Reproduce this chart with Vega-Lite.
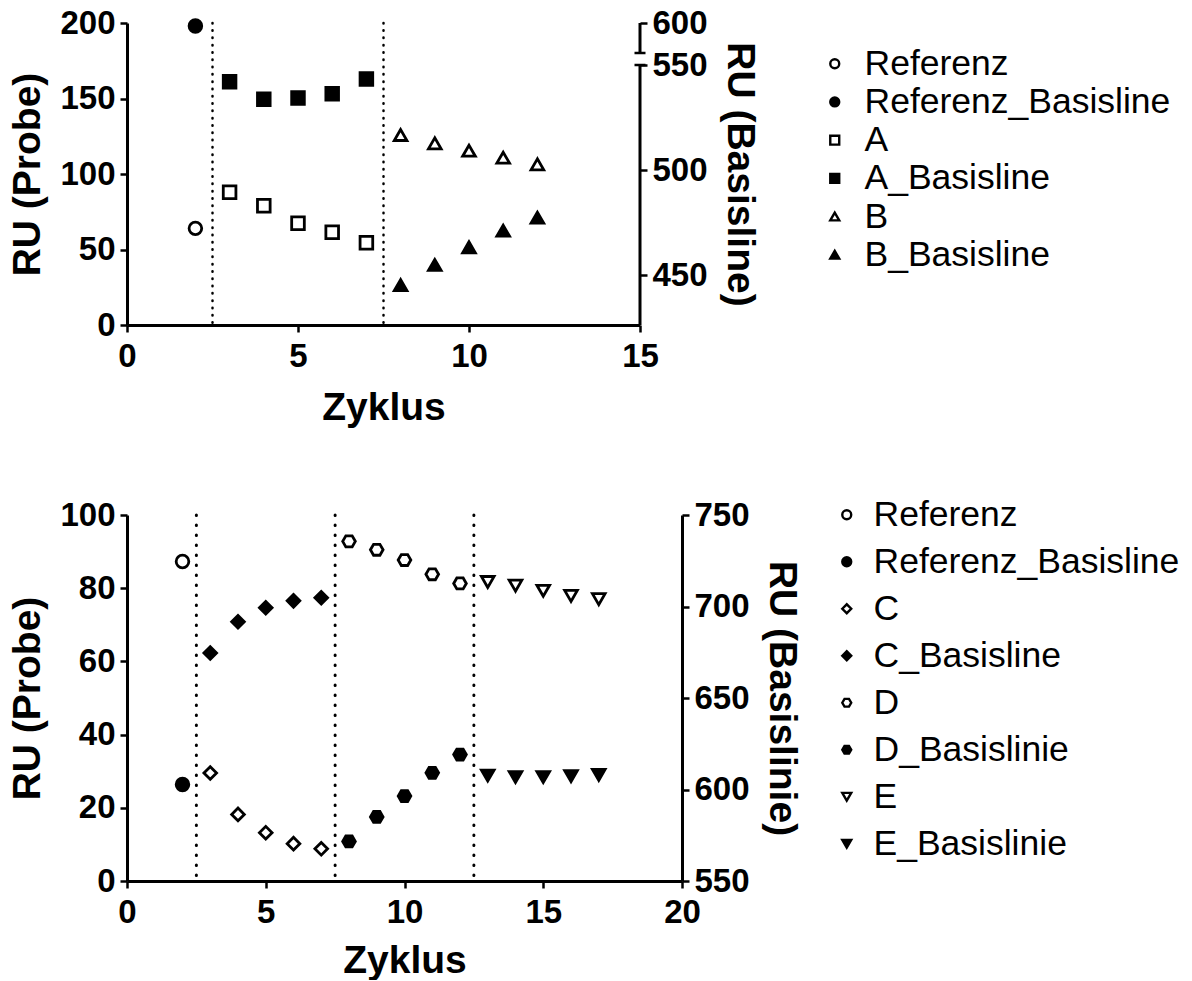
{
  "$schema": "https://vega.github.io/schema/vega-lite/v6.json",
  "background": "white",
  "padding": {"left": 8, "top": 7, "right": 0, "bottom": 0},
  "config": {
    "view": {"stroke": null},
    "font": "Liberation Sans",
    "axis": {
      "labelFont": "Liberation Sans", "labelFontWeight": "bold", "labelFontSize": 33, "labelColor": "black",
      "titleFont": "Liberation Sans", "titleFontWeight": "bold", "titleFontSize": 39, "titleColor": "black",
      "domainColor": "black", "domainWidth": 3, "tickColor": "black", "tickWidth": 2.5, "tickSize": 7,
      "grid": false, "labelPadding": 5, "titlePadding": 12, "labelFlush": false, "labelOverlap": false
    },
    "axisX": {"labelPadding": 8},
    "legend": {
      "orient": "none", "padding": 0, "labelFont": "Liberation Sans", "labelFontSize": 35.5, "labelColor": "black",
      "labelLimit": 500, "symbolSize": 80, "symbolStrokeWidth": 2.4
    }
  },
  "datasets": {
    "oben": [
      {"serie": "Referenz", "achse": "Probe", "zyklus": 2, "ru": 64.0},
      {"serie": "A", "achse": "Probe", "zyklus": 3, "ru": 87.9},
      {"serie": "A", "achse": "Probe", "zyklus": 4, "ru": 79.0},
      {"serie": "A", "achse": "Probe", "zyklus": 5, "ru": 67.4},
      {"serie": "A", "achse": "Probe", "zyklus": 6, "ru": 61.4},
      {"serie": "A", "achse": "Probe", "zyklus": 7, "ru": 54.5},
      {"serie": "B", "achse": "Probe", "zyklus": 8, "ru": 125.8},
      {"serie": "B", "achse": "Probe", "zyklus": 9, "ru": 120.3},
      {"serie": "B", "achse": "Probe", "zyklus": 10, "ru": 115.4},
      {"serie": "B", "achse": "Probe", "zyklus": 11, "ru": 110.8},
      {"serie": "B", "achse": "Probe", "zyklus": 12, "ru": 106.4},
      {"serie": "Referenz_Basisline", "achse": "Basis", "zyklus": 2, "ru": 598},
      {"serie": "A_Basisline", "achse": "Basis", "zyklus": 3, "ru": 542.0},
      {"serie": "A_Basisline", "achse": "Basis", "zyklus": 4, "ru": 533.7},
      {"serie": "A_Basisline", "achse": "Basis", "zyklus": 5, "ru": 534.3},
      {"serie": "A_Basisline", "achse": "Basis", "zyklus": 6, "ru": 536.3},
      {"serie": "A_Basisline", "achse": "Basis", "zyklus": 7, "ru": 543.3},
      {"serie": "B_Basisline", "achse": "Basis", "zyklus": 8, "ru": 445.2},
      {"serie": "B_Basisline", "achse": "Basis", "zyklus": 9, "ru": 454.8},
      {"serie": "B_Basisline", "achse": "Basis", "zyklus": 10, "ru": 463.2},
      {"serie": "B_Basisline", "achse": "Basis", "zyklus": 11, "ru": 471.1},
      {"serie": "B_Basisline", "achse": "Basis", "zyklus": 12, "ru": 477.3}
    ],
    "unten": [
      {"serie": "Referenz", "achse": "Probe", "zyklus": 2, "ru": 87.3},
      {"serie": "C", "achse": "Probe", "zyklus": 3, "ru": 29.5},
      {"serie": "C", "achse": "Probe", "zyklus": 4, "ru": 18.2},
      {"serie": "C", "achse": "Probe", "zyklus": 5, "ru": 13.2},
      {"serie": "C", "achse": "Probe", "zyklus": 6, "ru": 10.2},
      {"serie": "C", "achse": "Probe", "zyklus": 7, "ru": 8.8},
      {"serie": "D", "achse": "Probe", "zyklus": 8, "ru": 92.8},
      {"serie": "D", "achse": "Probe", "zyklus": 9, "ru": 90.5},
      {"serie": "D", "achse": "Probe", "zyklus": 10, "ru": 87.7},
      {"serie": "D", "achse": "Probe", "zyklus": 11, "ru": 83.8},
      {"serie": "D", "achse": "Probe", "zyklus": 12, "ru": 81.3},
      {"serie": "E", "achse": "Probe", "zyklus": 13, "ru": 81.7},
      {"serie": "E", "achse": "Probe", "zyklus": 14, "ru": 80.7},
      {"serie": "E", "achse": "Probe", "zyklus": 15, "ru": 79.3},
      {"serie": "E", "achse": "Probe", "zyklus": 16, "ru": 77.9},
      {"serie": "E", "achse": "Probe", "zyklus": 17, "ru": 77.0},
      {"serie": "Referenz_Basisline", "achse": "Basis", "zyklus": 2, "ru": 602.7},
      {"serie": "C_Basisline", "achse": "Basis", "zyklus": 3, "ru": 674.6},
      {"serie": "C_Basisline", "achse": "Basis", "zyklus": 4, "ru": 691.7},
      {"serie": "C_Basisline", "achse": "Basis", "zyklus": 5, "ru": 699.3},
      {"serie": "C_Basisline", "achse": "Basis", "zyklus": 6, "ru": 703.1},
      {"serie": "C_Basisline", "achse": "Basis", "zyklus": 7, "ru": 704.8},
      {"serie": "D_Basislinie", "achse": "Basis", "zyklus": 8, "ru": 571.6},
      {"serie": "D_Basislinie", "achse": "Basis", "zyklus": 9, "ru": 585.0},
      {"serie": "D_Basislinie", "achse": "Basis", "zyklus": 10, "ru": 596.4},
      {"serie": "D_Basislinie", "achse": "Basis", "zyklus": 11, "ru": 609.1},
      {"serie": "D_Basislinie", "achse": "Basis", "zyklus": 12, "ru": 619.1},
      {"serie": "E_Basislinie", "achse": "Basis", "zyklus": 13, "ru": 607.6},
      {"serie": "E_Basislinie", "achse": "Basis", "zyklus": 14, "ru": 606.8},
      {"serie": "E_Basislinie", "achse": "Basis", "zyklus": 15, "ru": 606.8},
      {"serie": "E_Basislinie", "achse": "Basis", "zyklus": 16, "ru": 607.3},
      {"serie": "E_Basislinie", "achse": "Basis", "zyklus": 17, "ru": 608.0}
    ]
  },
  "spacing": 70,
  "vconcat": [
    {
      "width": 513,
      "height": 302,
      "data": {"name": "oben"},
      "layer": [
        {
          "layer": [
            {
              "data": {"values": [{"grenze": 2.5}, {"grenze": 7.5}]},
              "mark": {"type": "rule", "color": "black", "strokeWidth": 2.5, "strokeDash": [0.5, 6.8], "strokeCap": "round"},
              "encoding": {
                "x": {"field": "grenze", "type": "quantitative", "scale": {"domain": [0, 15], "nice": false},
                      "axis": {"values": [0, 5, 10, 15], "title": "Zyklus", "titlePadding": 15}}
              }
            },
            {
              "transform": [{"filter": {"field": "achse", "equal": "Probe"}}],
              "mark": {"type": "point", "filled": true, "strokeWidth": 2.8, "size": 160, "opacity": 1},
              "encoding": {
                "x": {"field": "zyklus", "type": "quantitative", "scale": {"domain": [0, 15], "nice": false},
                      "axis": {"values": [0, 5, 10, 15], "title": "Zyklus", "titlePadding": 15}},
                "y": {"field": "ru", "type": "quantitative", "scale": {"domain": [0, 200], "nice": false},
                      "axis": {"orient": "left", "values": [0, 50, 100, 150, 200], "title": "RU (Probe)"}},
                "shape": {"field": "serie", "type": "nominal",
                  "scale": {"domain": ["Referenz", "Referenz_Basisline", "A", "A_Basisline", "B", "B_Basisline"],
                            "range": ["circle", "circle", "square", "square", "triangle-up", "triangle-up"]},
                  "legend": {"title": null, "legendX": 690, "legendY": 23, "labelOffset": 12, "rowPadding": 1.2}},
                "fill": {"field": "serie", "type": "nominal",
                  "scale": {"domain": ["Referenz", "Referenz_Basisline", "A", "A_Basisline", "B", "B_Basisline"],
                            "range": ["white", "black", "white", "black", "white", "black"]},
                  "legend": {"title": null, "legendX": 690, "legendY": 23, "labelOffset": 12, "rowPadding": 1.2}},
                "stroke": {"field": "serie", "type": "nominal",
                  "scale": {"domain": ["Referenz", "Referenz_Basisline", "A", "A_Basisline", "B", "B_Basisline"],
                            "range": ["black", "black", "black", "black", "black", "black"]},
                  "legend": {"title": null, "legendX": 690, "legendY": 23, "labelOffset": 12, "rowPadding": 1.2}}
              }
            }
          ]
        },
        {
          "layer": [
            {
              "transform": [{"filter": {"field": "achse", "equal": "Basis"}}],
              "mark": {"type": "point", "filled": true, "strokeWidth": 2.8, "size": 160, "opacity": 1},
              "encoding": {
                "x": {"field": "zyklus", "type": "quantitative", "scale": {"domain": [0, 15], "nice": false},
                      "axis": {"values": [0, 5, 10, 15], "title": "Zyklus", "titlePadding": 15}},
                "y": {"field": "ru", "type": "quantitative",
                      "scale": {"domain": [426.2, 550, 580, 600], "range": [302, 42, 30, 0], "nice": false, "zero": false},
                      "axis": {"orient": "right", "values": [450, 500, 550, 600], "title": "RU (Basisline)", "domain": false}},
                "shape": {"field": "serie", "type": "nominal",
                  "scale": {"domain": ["Referenz", "Referenz_Basisline", "A", "A_Basisline", "B", "B_Basisline"],
                            "range": ["circle", "circle", "square", "square", "triangle-up", "triangle-up"]},
                  "legend": {"title": null, "legendX": 690, "legendY": 23, "labelOffset": 12, "rowPadding": 1.2}},
                "fill": {"field": "serie", "type": "nominal",
                  "scale": {"domain": ["Referenz", "Referenz_Basisline", "A", "A_Basisline", "B", "B_Basisline"],
                            "range": ["white", "black", "white", "black", "white", "black"]},
                  "legend": {"title": null, "legendX": 690, "legendY": 23, "labelOffset": 12, "rowPadding": 1.2}},
                "stroke": {"field": "serie", "type": "nominal",
                  "scale": {"domain": ["Referenz", "Referenz_Basisline", "A", "A_Basisline", "B", "B_Basisline"],
                            "range": ["black", "black", "black", "black", "black", "black"]},
                  "legend": {"title": null, "legendX": 690, "legendY": 23, "labelOffset": 12, "rowPadding": 1.2}}
              }
            },
            {
              "data": {"values": [{"von": 426.2, "bis": 550}, {"von": 580, "bis": 600}]},
              "mark": {"type": "rule", "color": "black", "strokeWidth": 3},
              "encoding": {
                "x": {"datum": 15, "type": "quantitative", "scale": {"domain": [0, 15], "nice": false},
                      "axis": {"values": [0, 5, 10, 15], "title": "Zyklus", "titlePadding": 15}},
                "y": {"field": "von", "type": "quantitative",
                      "scale": {"domain": [426.2, 550, 580, 600], "range": [302, 42, 30, 0], "nice": false, "zero": false},
                      "axis": {"orient": "right", "values": [450, 500, 550, 600], "title": "RU (Basisline)", "domain": false}},
                "y2": {"field": "bis"}
              }
            },
            {
              "data": {"values": [{"bruch": 550}, {"bruch": 580}]},
              "mark": {"type": "point", "shape": "stroke", "size": 121, "stroke": "black", "strokeWidth": 2.5, "opacity": 1},
              "encoding": {
                "x": {"datum": 15, "type": "quantitative", "scale": {"domain": [0, 15], "nice": false},
                      "axis": {"values": [0, 5, 10, 15], "title": "Zyklus", "titlePadding": 15}},
                "y": {"field": "bruch", "type": "quantitative",
                      "scale": {"domain": [426.2, 550, 580, 600], "range": [302, 42, 30, 0], "nice": false, "zero": false},
                      "axis": {"orient": "right", "values": [450, 500, 550, 600], "title": "RU (Basisline)", "domain": false}}
              }
            }
          ]
        }
      ],
      "resolve": {"scale": {"y": "independent"}}
    },
    {
      "width": 555,
      "height": 366,
      "data": {"name": "unten"},
      "layer": [
        {
          "layer": [
            {
              "data": {"values": [{"grenze": 2.5}, {"grenze": 7.5}, {"grenze": 12.5}]},
              "mark": {"type": "rule", "color": "black", "strokeWidth": 3, "strokeDash": [0.5, 9.5], "strokeCap": "round"},
              "encoding": {
                "x": {"field": "grenze", "type": "quantitative", "scale": {"domain": [0, 20], "nice": false},
                      "axis": {"values": [0, 5, 10, 15, 20], "title": "Zyklus", "titlePadding": 12}}
              }
            },
            {
              "transform": [{"filter": {"field": "achse", "equal": "Probe"}}],
              "mark": {"type": "point", "filled": true, "strokeWidth": 2.8, "size": 160, "opacity": 1},
              "encoding": {
                "x": {"field": "zyklus", "type": "quantitative", "scale": {"domain": [0, 20], "nice": false},
                      "axis": {"values": [0, 5, 10, 15, 20], "title": "Zyklus", "titlePadding": 12}},
                "y": {"field": "ru", "type": "quantitative", "scale": {"domain": [0, 100], "nice": false},
                      "axis": {"orient": "left", "values": [0, 20, 40, 60, 80, 100], "title": "RU (Probe)"}},
                "shape": {"field": "serie", "type": "nominal",
                  "scale": {"domain": ["Referenz", "Referenz_Basisline", "C", "C_Basisline", "D", "D_Basislinie", "E", "E_Basislinie"],
                            "range": ["circle", "circle", "diamond", "diamond", "M-1,0L-0.5,-0.866L0.5,-0.866L1,0L0.5,0.866L-0.5,0.866Z", "M-1,0L-0.5,-0.866L0.5,-0.866L1,0L0.5,0.866L-0.5,0.866Z", "triangle-down", "triangle-down"]},
                  "legend": {"title": null, "legendX": 702, "legendY": -18, "labelOffset": 9, "rowPadding": 10}},
                "fill": {"field": "serie", "type": "nominal",
                  "scale": {"domain": ["Referenz", "Referenz_Basisline", "C", "C_Basisline", "D", "D_Basislinie", "E", "E_Basislinie"],
                            "range": ["white", "black", "white", "black", "white", "black", "white", "black"]},
                  "legend": {"title": null, "legendX": 702, "legendY": -18, "labelOffset": 9, "rowPadding": 10}},
                "stroke": {"field": "serie", "type": "nominal",
                  "scale": {"domain": ["Referenz", "Referenz_Basisline", "C", "C_Basisline", "D", "D_Basislinie", "E", "E_Basislinie"],
                            "range": ["black", "black", "black", "black", "black", "black", "black", "black"]},
                  "legend": {"title": null, "legendX": 702, "legendY": -18, "labelOffset": 9, "rowPadding": 10}}
              }
            }
          ]
        },
        {
          "transform": [{"filter": {"field": "achse", "equal": "Basis"}}],
          "mark": {"type": "point", "filled": true, "strokeWidth": 2.8, "size": 160, "opacity": 1},
          "encoding": {
            "x": {"field": "zyklus", "type": "quantitative", "scale": {"domain": [0, 20], "nice": false},
                  "axis": {"values": [0, 5, 10, 15, 20], "title": "Zyklus", "titlePadding": 12}},
            "y": {"field": "ru", "type": "quantitative", "scale": {"domain": [550, 750], "nice": false, "zero": false},
                  "axis": {"orient": "right", "values": [550, 600, 650, 700, 750], "title": "RU (Basislinie)"}},
            "shape": {"field": "serie", "type": "nominal",
              "scale": {"domain": ["Referenz", "Referenz_Basisline", "C", "C_Basisline", "D", "D_Basislinie", "E", "E_Basislinie"],
                        "range": ["circle", "circle", "diamond", "diamond", "M-1,0L-0.5,-0.866L0.5,-0.866L1,0L0.5,0.866L-0.5,0.866Z", "M-1,0L-0.5,-0.866L0.5,-0.866L1,0L0.5,0.866L-0.5,0.866Z", "triangle-down", "triangle-down"]},
              "legend": {"title": null, "legendX": 702, "legendY": -18, "labelOffset": 9, "rowPadding": 10}},
            "fill": {"field": "serie", "type": "nominal",
              "scale": {"domain": ["Referenz", "Referenz_Basisline", "C", "C_Basisline", "D", "D_Basislinie", "E", "E_Basislinie"],
                        "range": ["white", "black", "white", "black", "white", "black", "white", "black"]},
              "legend": {"title": null, "legendX": 702, "legendY": -18, "labelOffset": 9, "rowPadding": 10}},
            "stroke": {"field": "serie", "type": "nominal",
              "scale": {"domain": ["Referenz", "Referenz_Basisline", "C", "C_Basisline", "D", "D_Basislinie", "E", "E_Basislinie"],
                        "range": ["black", "black", "black", "black", "black", "black", "black", "black"]},
              "legend": {"title": null, "legendX": 702, "legendY": -18, "labelOffset": 9, "rowPadding": 10}}
          }
        }
      ],
      "resolve": {"scale": {"y": "independent"}}
    }
  ],
  "resolve": {"scale": {"shape": "independent", "fill": "independent", "stroke": "independent"}}
}
